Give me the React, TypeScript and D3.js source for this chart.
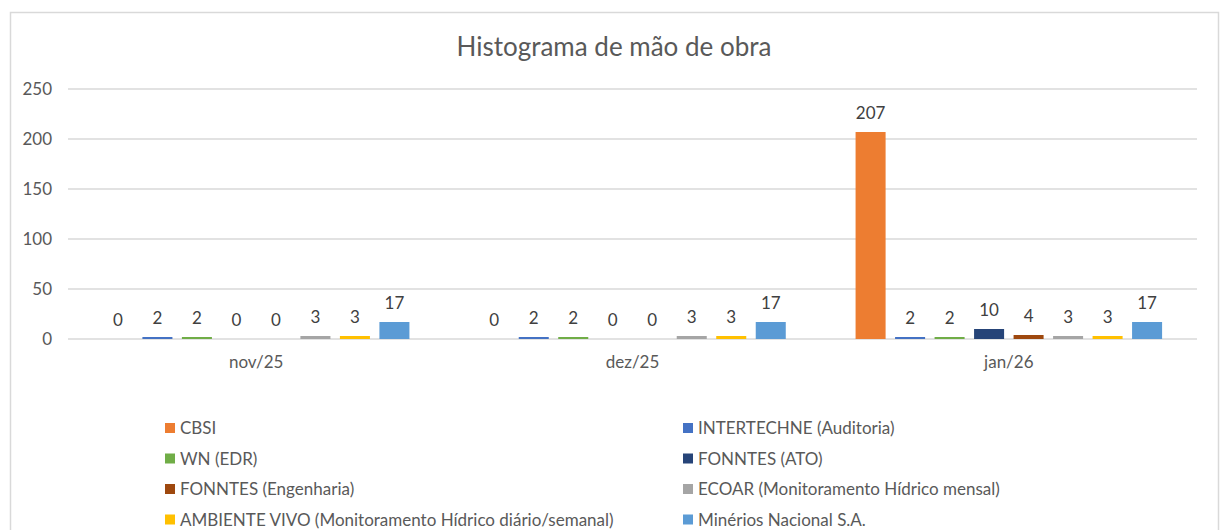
import React from 'react';
import {scaleBand, scaleLinear} from 'd3';

const categories = ['nov/25', 'dez/25', 'jan/26'];
const seriesNames = [
  'CBSI',
  'INTERTECHNE (Auditoria)',
  'WN (EDR)',
  'FONNTES (ATO)',
  'FONNTES (Engenharia)',
  'ECOAR (Monitoramento Hídrico mensal)',
  'AMBIENTE VIVO (Monitoramento Hídrico diário/semanal)',
  'Minérios Nacional S.A.',
];
const seriesColors = ['#ED7D31', '#4472C4', '#70AD47', '#264478', '#9E480E', '#A5A5A5', '#FFC000', '#5B9BD5'];
// values[series][category]
const cbsi = [0, 0, 207];
const intertechne = [2, 2, 2];
const wn = [2, 2, 2];
const fonntesAto = [0, 0, 10];
const fonntesEng = [0, 0, 4];
const ecoar = [3, 3, 3];
const ambienteVivo = [3, 3, 3];
const minerios = [17, 17, 17];
const values = [cbsi, intertechne, wn, fonntesAto, fonntesEng, ecoar, ambienteVivo, minerios];
const yTicks = [0, 50, 100, 150, 200, 250];

const width = 1221;
const height = 530;
const plot = {left: 68, right: 1197, top: 89, bottom: 339};
const font = 'Lato, "Open Sans", sans-serif';

export default function App() {
  const x0 = scaleBand().domain(categories).range([plot.left, plot.right]);
  const groupW = 316;
  const x1 = scaleBand()
    .domain(seriesNames)
    .range([0, groupW])
    .paddingInner(0.24)
    .paddingOuter(0.12);
  const y = scaleLinear().domain([0, 250]).range([plot.bottom, plot.top]);

  return (
    <svg width={width} height={height} style={{position: 'absolute', left: 0, top: 0, background: 'white'}}>
      <rect x={10.5} y={12.5} width={1208} height={530} fill="white" stroke="#D9D9D9" strokeWidth={1.5} />
      <text x={614} y={56} textAnchor="middle" fontFamily={font} fontSize={26} fill="#595959">
        Histograma de mão de obra
      </text>
      {yTicks.map((t) => (
        <g key={t}>
          <line x1={plot.left} x2={plot.right} y1={y(t)} y2={y(t)} stroke="#D9D9D9" strokeWidth={1.3} />
          <text x={52} y={y(t)} dy="0.36em" textAnchor="end" fontFamily={font} fontSize={17} fill="#595959">{t}</text>
        </g>
      ))}
      {categories.map((c, ci) => {
        const gx = x0(c)! + x0.bandwidth() / 2 - groupW / 2;
        return (
          <g key={c}>
            {seriesNames.map((s, si) => {
              const v = values[si][ci];
              const bx = gx + x1(s)!;
              return (
                <g key={s}>
                  <rect x={bx} y={y(v)} width={x1.bandwidth()} height={plot.bottom - y(v)} fill={seriesColors[si]} />
                  <text x={bx + x1.bandwidth() / 2} y={y(v) - 13} textAnchor="middle" fontFamily={font} fontSize={17} fill="#404040">{v}</text>
                </g>
              );
            })}
            <text x={x0(c)! + x0.bandwidth() / 2} y={368} textAnchor="middle" fontFamily={font} fontSize={17} fill="#595959">{c}</text>
          </g>
        );
      })}
      {seriesNames.map((s, i) => {
        const col = i % 2;
        const row = Math.floor(i / 2);
        const lx = col === 0 ? 165 : 683;
        const ly = 428 + row * 30.5;
        return (
          <g key={s}>
            <rect x={lx} y={ly - 5} width={10} height={10} fill={seriesColors[i]} />
            <text x={lx + 15} y={ly} dy="0.36em" fontFamily={font} fontSize={17} fill="#595959">{s}</text>
          </g>
        );
      })}
    </svg>
  );
}
